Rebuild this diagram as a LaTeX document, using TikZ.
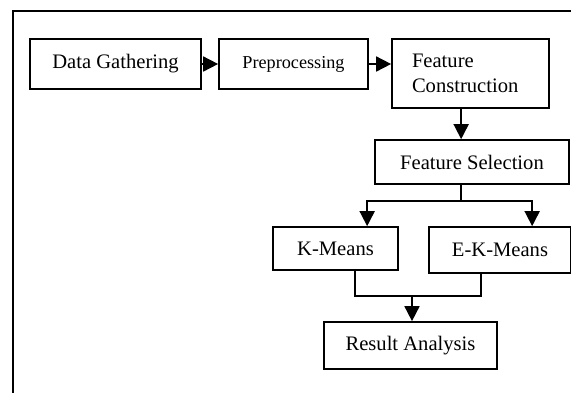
\documentclass[tikz,border=0pt]{standalone}
\usepackage{fontspec}
\setmainfont{Liberation Serif}
\usetikzlibrary{arrows.meta,calc}
\begin{document}
\begin{tikzpicture}[x=1pt,y=-1pt,
  box/.style={draw,line width=1.7pt,rectangle,inner sep=0pt,font=\fontsize{20.6}{25}\selectfont},
  arr/.style={line width=1.7pt,-{Triangle[length=15pt,width=15pt]}},
  ln/.style={line width=1.7pt}]
\useasboundingbox (0,0) rectangle (571,392);
\clip (0,0) rectangle (571,392);
\draw[line width=2pt] (590,11) -- (13,11) -- (13,400);
\node[box,minimum width=171pt,minimum height=50pt] (dg) at (115.5,64) {Data Gathering};
\node[box,minimum width=149pt,minimum height=50pt,font=\fontsize{18.2}{22}\selectfont] (pp) at (293.5,64) {Preprocessing};
\node[box,minimum height=69pt,inner xsep=20pt,text width=117pt,align=left] (fc) at (470.5,73.5) {Feature\\Construction};
\node[box,minimum width=194pt,minimum height=44pt] (fs) at (472,162) {Feature Selection};
\node[box,minimum width=125pt,minimum height=43pt] (km) at (335.5,248.5) {K-Means};
\node[box,minimum width=142pt,minimum height=46pt] (ekm) at (500,250) {E-K-Means};
\node[box,minimum width=173pt,minimum height=47pt] (ra) at (410.5,345.5) {Result Analysis};
\draw[arr] (dg.east) -- (pp.west);
\draw[arr] (pp.east) -- (pp.east -| fc.west);
\coordinate (c1) at ($(fc.south west)+(70,0)$);
\draw[arr] (c1) -- (c1 |- fs.north);
\coordinate (c2) at ($(fs.south west)+(87,0)$);
\coordinate (c3) at ($(c2)+(0,16)$);
\coordinate (c4) at ($(km.north west)+(95,0)$);
\coordinate (c5) at ($(ekm.north west)+(104,0)$);
\draw[ln] (c2) -- (c3);
\draw[arr] (c3) -| (c4);
\draw[arr] (c3) -| (c5);
\coordinate (d1) at ($(km.south west)+(83,0)$);
\coordinate (d2) at ($(ekm.south west)+(53,0)$);
\coordinate (d3) at (412,296);
\draw[ln] (d1) |- (d3) -| (d2);
\draw[arr] (d3) -- (d3 |- ra.north);
\end{tikzpicture}
\end{document}
